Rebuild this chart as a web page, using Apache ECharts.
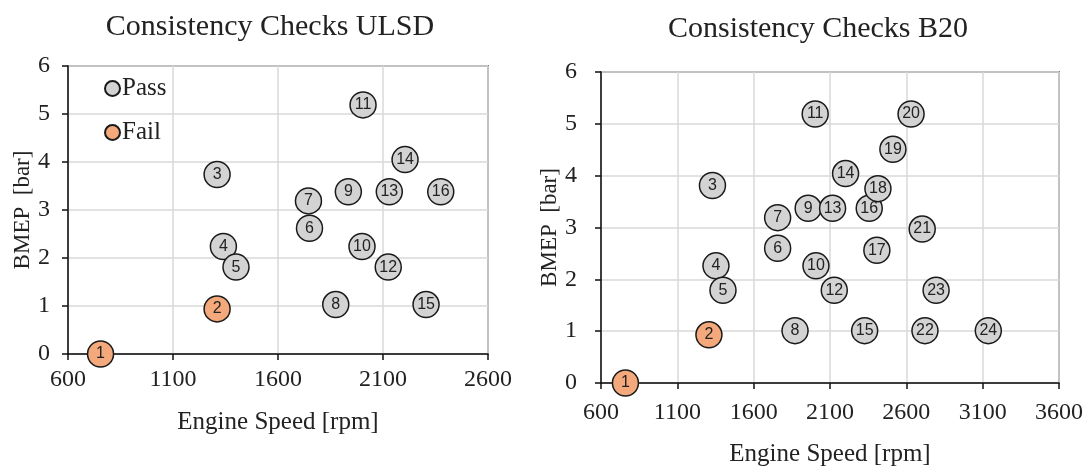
<!DOCTYPE html>
<html><head><meta charset="utf-8">
<script src="https://cdn.jsdelivr.net/npm/echarts@6/dist/echarts.min.js"></script>
<style>html,body{margin:0;padding:0;background:#fff}#c{width:1091px;height:472px}</style>
</head><body><div id="c"></div>
<script>
// ULSD chart
const ulsdIds  = [1,2,3,4,5,6,7,8,9,10,11,12,13,14,15,16];
const ulsdRpm  = [755,1310,1310,1340,1400,1750,1745,1875,1935,2000,2005,2125,2130,2205,2305,2375];
const ulsdBmep = [0,0.94,3.74,2.24,1.81,2.62,3.19,1.03,3.38,2.24,5.19,1.81,3.38,4.05,1.03,3.38];
const ulsdFail = [1,2];
// B20 chart
const b20Ids  = [1,2,3,4,5,6,7,8,9,10,11,12,13,14,15,16,17,18,19,20,21,22,23,24];
const b20Rpm  = [760,1307,1330,1353,1399,1757,1757,1871,1957,2008,2003,2128,2117,2202,2327,2357,2407,2414,2512,2631,2704,2722,2795,3137];
const b20Bmep = [0,0.93,3.81,2.26,1.79,2.6,3.19,1.01,3.37,2.26,5.19,1.79,3.37,4.04,1.01,3.37,2.56,3.75,4.51,5.19,2.97,1.01,1.79,1.01];
const b20Fail = [1,2];
// axes
const yTicks = [0,1,2,3,4,5,6];
const ulsdX = {min:600, max:2600, interval:500};
const b20X  = {min:600, max:3600, interval:500};
const titles = ['Consistency Checks ULSD','Consistency Checks B20'];
const xName = 'Engine Speed [rpm]';
const yName = 'BMEP\u2002[bar]';
const legendNames = ['Pass','Fail'];

const serif = '"Liberation Serif","DejaVu Serif",serif';
const sans = '"Liberation Sans","DejaVu Sans",sans-serif';
const passColor = '#d3d3d3', failColor = '#f4a97c';

function pts(ids, xs, ys, fail, wantFail){
  const out=[];
  ids.forEach((id,i)=>{ if((fail.indexOf(id)>=0)===wantFail) out.push([xs[i],ys[i],id]); });
  return out;
}
function sc(name, data, xi, color, size){
  return {type:'scatter', name, xAxisIndex:xi, yAxisIndex:xi, data, symbolSize:size, clip:false,
    itemStyle:{color, borderColor:'#1a1a1a', borderWidth:1.5, opacity:1},
    label:{show:true, position:'inside', formatter:p=>p.value[2], color:'#222', fontFamily:sans, fontSize:16},
    emphasis:{disabled:true}, z:5};
}
function xAx(gi, cfg, margin, gap){
  return {type:'value', gridIndex:gi, min:cfg.min, max:cfg.max, interval:cfg.interval,
    name:xName, nameLocation:'middle', nameGap:gap, nameTextStyle:{fontFamily:serif, fontSize:25, color:'#222'},
    axisLine:{show:true, onZero:false, lineStyle:{color:'#111', width:1.5}},
    axisTick:{show:true, length:6, lineStyle:{color:'#111', width:1.5}},
    axisLabel:{fontFamily:serif, fontSize:24, color:'#222', margin, formatter:v=>String(v)},
    splitLine:{show:true, lineStyle:{color:'#d9d9d9', width:1.5}}};
}
function yAx(gi, gap, margin){
  return {type:'value', gridIndex:gi, min:yTicks[0], max:yTicks[yTicks.length-1], interval:1,
    name:yName, nameLocation:'middle', nameGap:gap, nameRotate:90, nameTextStyle:{fontFamily:serif, fontSize:23, color:'#222'},
    axisLine:{show:true, lineStyle:{color:'#111', width:1.5}},
    axisTick:{show:true, length:6, lineStyle:{color:'#111', width:1.5}},
    axisLabel:{fontFamily:serif, fontSize:24, color:'#222', margin, formatter:v=>String(v)},
    splitLine:{show:true, lineStyle:{color:'#d9d9d9', width:1.5}}};
}

const chart = echarts.init(document.getElementById('c'));
chart.setOption({
  animation:false,
  backgroundColor:'#fff',
  title:[
    {text:titles[0], left:265, top:7, textAlign:'center', textStyle:{fontFamily:serif, fontSize:30, fontWeight:'normal', color:'#222'}},
    {text:titles[1], left:813, top:9, textAlign:'center', textStyle:{fontFamily:serif, fontSize:30, fontWeight:'normal', color:'#222'}}
  ],
  legend:{show:true, left:99, top:71, orient:'vertical', itemGap:19, itemWidth:15, itemHeight:15,
    data:legendNames.map(n=>({name:n, icon:'circle'})),
    textStyle:{fontFamily:serif, fontSize:25, lineHeight:25, color:'#222', padding:[0,0,0,-3]}},
  grid:[
    {left:68, right:603, top:66, bottom:118, show:true, borderColor:'#808080', borderWidth:2},
    {left:601, right:32, top:72, bottom:89, show:true, borderColor:'#808080', borderWidth:2}
  ],
  xAxis:[xAx(0, ulsdX, 14, 56), xAx(1, b20X, 18, 59)],
  yAxis:[yAx(0, 31, 18), yAx(1, 37, 24)],
  series:[
    sc(legendNames[0], pts(ulsdIds, ulsdRpm, ulsdBmep, ulsdFail, false), 0, passColor, 26),
    sc(legendNames[1], pts(ulsdIds, ulsdRpm, ulsdBmep, ulsdFail, true), 0, failColor, 26),
    sc(legendNames[0], pts(b20Ids, b20Rpm, b20Bmep, b20Fail, false), 1, passColor, 26),
    sc(legendNames[1], pts(b20Ids, b20Rpm, b20Bmep, b20Fail, true), 1, failColor, 26)
  ]
});
</script></body></html>
